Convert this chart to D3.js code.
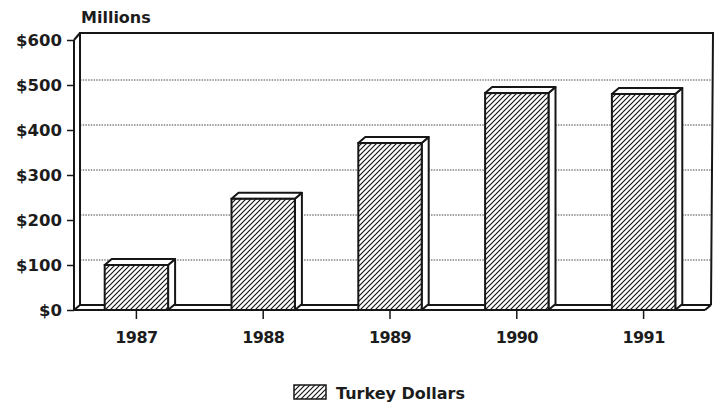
<!DOCTYPE html>
<html><head><meta charset="utf-8">
<script src="https://cdn.jsdelivr.net/npm/d3@7"></script>
<style>body{margin:0;background:#fff}svg{display:block}text{font-family:"DejaVu Sans",sans-serif;font-weight:bold;fill:#1c1c1c}</style>
</head><body>
<svg id="c" width="715" height="406"></svg>
<script>
const years = ["1987","1988","1989","1990","1991"];
const values = [100, 247, 371, 482, 480];
const tickValues = [0,100,200,300,400,500,600];
const tickLabels = ["$0","$100","$200","$300","$400","$500","$600"];
const seriesName = "Turkey Dollars";
const unitLabel = "Millions";

const svg = d3.select("#c");
const ink = "#161616";
const W = {dx:6, dy:-5};   // wall depth
const B = {dx:7, dy:-6};   // bar depth

const y = d3.scaleLinear().domain([0,600]).range([310,40]);
const x = d3.scaleBand().domain(years).range([73,707]).paddingInner(0.5).paddingOuter(0.25);

const defs = svg.append("defs");
const pat = defs.append("pattern").attr("id","hatch").attr("patternUnits","userSpaceOnUse")
  .attr("width",5).attr("height",5);
pat.append("rect").attr("width",5).attr("height",5).attr("fill","#fff");
pat.append("path").attr("d","M-1,1 l2,-2 M0,5 l5,-5 M4,6 l2,-2").attr("stroke",ink).attr("stroke-width",1.2);

const xl = 74, xr = 705;
const y0 = y(0), yTop = y(600);

// back wall gridlines (dotted)
svg.append("g").selectAll("line").data(tickValues.filter(v=>v>0 && v<600)).join("line")
  .attr("x1", xl+W.dx).attr("x2", xr+W.dx)
  .attr("y1", d=>y(d)+W.dy).attr("y2", d=>y(d)+W.dy)
  .attr("stroke","#444").attr("stroke-width",1).attr("stroke-dasharray","1.5,1.2");

// frame
const frame = svg.append("g").attr("fill","none").attr("stroke",ink).attr("stroke-width",2);
frame.append("path").attr("d", `M${xl+W.dx},${y0+W.dy} L${xl+W.dx},${yTop+W.dy-2} L${xr+W.dx+2},${yTop+W.dy-2} L${xr+W.dx},${y0+W.dy}`);
frame.append("line").attr("x1",xl+W.dx).attr("x2",xr+W.dx).attr("y1",y0+W.dy).attr("y2",y0+W.dy);
frame.append("line").attr("x1",xl).attr("y1",yTop).attr("x2",xl+W.dx).attr("y2",yTop+W.dy-2);
frame.append("line").attr("x1",xl).attr("y1",y0).attr("x2",xl+W.dx).attr("y2",y0+W.dy);
frame.append("line").attr("x1",xr).attr("y1",y0).attr("x2",xr+W.dx).attr("y2",y0+W.dy);
frame.append("line").attr("x1",xl).attr("x2",xr).attr("y1",y0).attr("y2",y0);

// bars
const bars = svg.append("g").selectAll("g").data(years.map((d,i)=>({year:d,value:values[i]}))).join("g");
bars.each(function(d){
  const g = d3.select(this);
  const x0 = x(d.year), x1 = x0 + x.bandwidth(), yt = y(d.value);
  g.append("path").attr("d",`M${x1},${yt} L${x1+B.dx},${yt+B.dy} L${x1+B.dx},${y0+B.dy} L${x1},${y0} Z`)
    .attr("fill","#fff").attr("stroke",ink).attr("stroke-width",2).attr("stroke-linejoin","round");
  g.append("path").attr("d",`M${x0},${yt} L${x0+B.dx},${yt+B.dy} L${x1+B.dx},${yt+B.dy} L${x1},${yt} Z`)
    .attr("fill","#fff").attr("stroke",ink).attr("stroke-width",2).attr("stroke-linejoin","round");
  g.append("rect").attr("x",x0).attr("y",yt).attr("width",x1-x0).attr("height",y0-yt)
    .attr("fill","url(#hatch)").attr("stroke",ink).attr("stroke-width",2);
});

// y axis
const yAxis = d3.axisLeft(y).tickValues(tickValues).tickSize(7).tickPadding(5)
  .tickFormat((d,i)=>tickLabels[i]);
const ya = svg.append("g").attr("transform",`translate(${xl},0)`).call(yAxis);
ya.select(".domain").attr("stroke",ink).attr("stroke-width",2).attr("d",`M0,${yTop}V${y0}`);
ya.selectAll(".tick line").attr("stroke",ink).attr("stroke-width",1.5);
ya.selectAll(".tick text").attr("font-size",16.5).attr("font-family","DejaVu Sans").attr("font-weight","bold").attr("fill","#1c1c1c").attr("dy","0.36em");

// x axis
const xAxis = d3.axisBottom(x).tickSize(9).tickPadding(9);
const xa = svg.append("g").attr("transform",`translate(0,${y0})`).call(xAxis);
xa.select(".domain").remove();
xa.selectAll(".tick line").attr("stroke",ink).attr("stroke-width",1.5);
xa.selectAll(".tick text").attr("font-size",16).attr("letter-spacing","-0.6")
  .attr("font-family","DejaVu Sans").attr("font-weight","bold").attr("fill","#1c1c1c")
  .attr("y",33).attr("dy",0);

// unit label
svg.append("text").attr("x",81).attr("y",23).attr("font-size",16).text(unitLabel);

// legend
svg.append("rect").attr("x",294).attr("y",385).attr("width",32).attr("height",14)
  .attr("fill","url(#hatch)").attr("stroke",ink).attr("stroke-width",1.5);
svg.append("text").attr("x",336).attr("y",399).attr("font-size",16).text(seriesName);
</script>
</body></html>
